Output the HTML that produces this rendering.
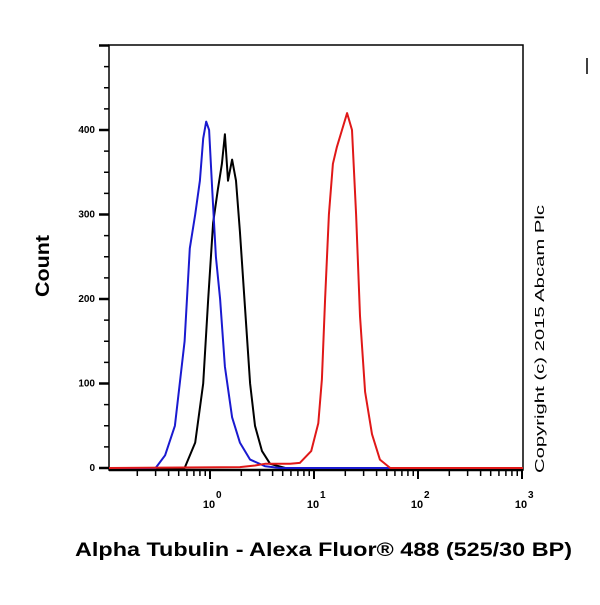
<!DOCTYPE html>
<html><head><meta charset="utf-8"><style>
body{margin:0;background:#fff;width:600px;height:600px;overflow:hidden}
svg text{font-family:"Liberation Sans",Arial,sans-serif}
</style></head><body>
<svg id="chart" width="600" height="600" xmlns="http://www.w3.org/2000/svg">
<rect x="109" y="45" width="414" height="425" fill="#fff" stroke="#000" stroke-width="1.5"/>
<g id="axes"></g>
<g id="series"></g>
<text x="49" y="297" transform="rotate(-90 49 297)" textLength="62" lengthAdjust="spacingAndGlyphs" font-weight="bold" font-size="19">Count</text>
<text x="75" y="556" textLength="497" lengthAdjust="spacingAndGlyphs" font-weight="bold" font-size="19">Alpha Tubulin - Alexa Fluor® 488 (525/30 BP)</text>
<text x="544" y="473" transform="rotate(-90 544 473)" textLength="268" lengthAdjust="spacingAndGlyphs" font-size="13">Copyright (c) 2015 Abcam Plc</text>
<line x1="587" y1="58" x2="587" y2="74" stroke="#000" stroke-width="1.5"/>
</svg>
<script>
const yTicks=[0,100,200,300,400];
const xDecades=[0,1,2,3];
const blueX=[0.30,0.37,0.46,0.57,0.64,0.72,0.80,0.86,0.92,0.98,1.05,1.14,1.25,1.39,1.63,1.94,2.43,3.4,4.7];
const blueY=[0,15,50,150,260,300,340,390,410,400,330,250,200,120,60,30,10,2,0];
const blackX=[0.57,0.72,0.86,0.96,1.07,1.19,1.30,1.39,1.49,1.63,1.78,1.94,2.17,2.43,2.71,3.16,3.78,5.3];
const blackY=[0,30,100,200,290,330,360,395,340,365,340,280,190,100,50,20,5,0];
const redX=[1.94,2.71,3.38,5.9,7.3,9.4,11.0,11.9,12.8,13.9,15.2,16.6,18.6,20.8,23.2,25.4,27.7,31.0,36.1,43,54];
const redY=[1,3,5,5,6,20,53,105,200,300,360,380,400,420,400,300,180,90,40,10,0];
const NS="http://www.w3.org/2000/svg";
const L=109,R=523,B=468;
const xs=v=>210+104*Math.log10(v);
const ys=c=>B-0.845*c;
const ax=document.getElementById('axes');
function mk(t,a,p){const e=document.createElementNS(NS,t);for(const k in a)e.setAttribute(k,a[k]);p.appendChild(e);return e;}
const bl=mk('line',{x1:L,y1:470,x2:R,y2:470,stroke:'#000','stroke-width':2.5},ax);


for(let c=0;c<=500;c+=25){
 const y=ys(c); if(y<45) continue;
 const major=c%100===0;
 const t=mk('line',{x1:major?99:104,y1:y,x2:L,y2:y,stroke:'#000','stroke-width':major?2.5:1.5},ax);
 
 
}
yTicks.forEach(c=>{
 const t=mk('text',{x:95,y:ys(c)+3,'text-anchor':'end','font-size':10,'font-weight':'bold'},ax);
 t.textContent=c;
 
 
});
for(let d=-1;d<3;d++){for(let m=1;m<=10;m++){
 const v=m*Math.pow(10,d); const x=xs(v); if(x<L-1||x>R+1) continue;
 const major=m===1||m===10;
 const t=mk('line',{x1:x,y1:470,x2:x,y2:major?479:476,stroke:'#000','stroke-width':major?2:1.5},ax);
 
 
}}
xDecades.forEach(d=>{
 const x=xs(Math.pow(10,d));
 const t=mk('text',{x:x-1,y:508,'text-anchor':'middle','font-size':11,'font-weight':'bold'},ax);
 t.textContent='10';
 
 
 const s=mk('text',{x:x+6,y:498,'font-size':10,'font-weight':'bold'},ax);
 s.textContent=d;
 
 
});
const sg=document.getElementById('series');
function curve(X,Y,col,name){
 let d='M'+L+','+ys(0)+' L'+xs(X[0])+','+ys(Y[0]);
 for(let i=1;i<X.length;i++) d+=' L'+xs(X[i]).toFixed(1)+','+ys(Y[i]).toFixed(1);
 d+=' L'+R+','+ys(0);
 const p=mk('path',{d:d,fill:'none',stroke:col,'stroke-width':2,'stroke-linejoin':'round'},sg);
 
 
}
curve(blackX,blackY,'#000','black-histogram');
curve(blueX,blueY,'#1a1ad0','blue-histogram');
curve(redX,redY,'#e01818','red-histogram');
</script>
</body></html>
